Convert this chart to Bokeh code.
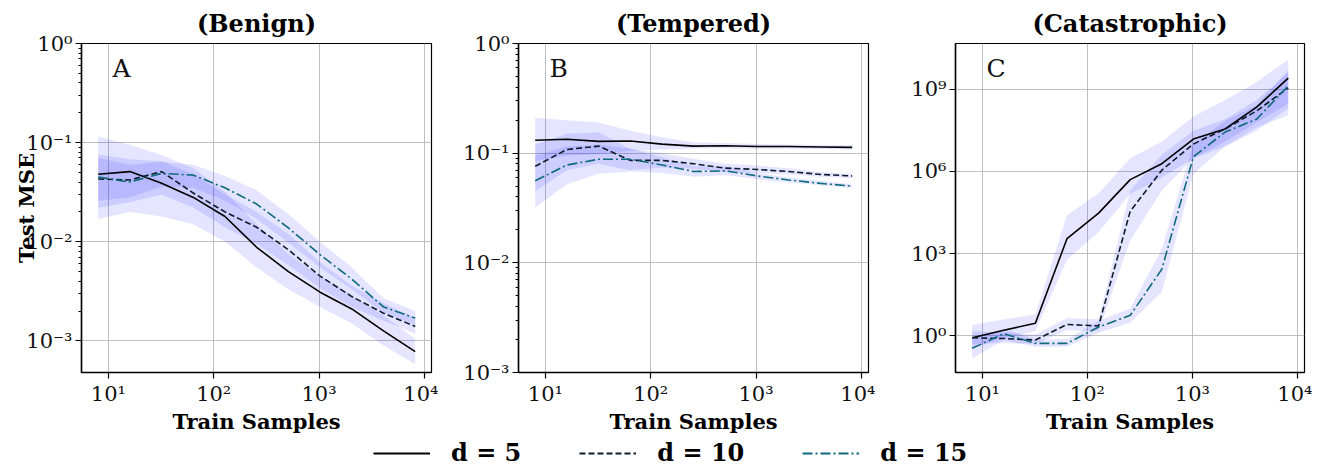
from bokeh.plotting import figure
from bokeh.models import (FixedTicker, CustomJSTickFormatter, Label, Legend,
                          LegendItem, Range1d)
from bokeh.layouts import column, row
from bokeh.embed import file_html
from bokeh.resources import INLINE

# ---------------- data ----------------
samples = [8, 16, 32, 64, 128, 256, 512, 1024, 2048, 4096, 8192]
series_names = ["d = 5", "d = 10", "d = 15"]
panel_titles = ["(Benign)", "(Tempered)", "(Catastrophic)"]
panel_letters = ["A", "B", "C"]

# Panel A (Benign)
a_d5 = [0.048, 0.051, 0.039, 0.028, 0.018, 0.0088, 0.005, 0.0031, 0.0021, 0.00126, 0.00078]
a_d5_lo = [0.017, 0.020, 0.018, 0.015, 0.010, 0.0055, 0.0033, 0.0022, 0.0015, 0.00090, 0.00058]
a_d5_hi = [0.115, 0.095, 0.075, 0.055, 0.032, 0.015, 0.0075, 0.0045, 0.0029, 0.0018, 0.00105]
a_d10 = [0.043, 0.042, 0.051, 0.031, 0.020, 0.014, 0.0083, 0.0045, 0.0028, 0.0019, 0.0014]
a_d10_lo = [0.022, 0.025, 0.030, 0.022, 0.014, 0.0095, 0.0058, 0.0034, 0.0022, 0.0016, 0.00118]
a_d10_hi = [0.076, 0.068, 0.065, 0.048, 0.030, 0.020, 0.012, 0.0062, 0.0036, 0.0024, 0.0017]
a_d15 = [0.045, 0.040, 0.049, 0.047, 0.035, 0.024, 0.0138, 0.0074, 0.0042, 0.0022, 0.0017]
a_d15_lo = [0.026, 0.028, 0.036, 0.035, 0.026, 0.017, 0.0098, 0.0055, 0.0033, 0.0019, 0.00145]
a_d15_hi = [0.070, 0.060, 0.064, 0.060, 0.046, 0.033, 0.019, 0.010, 0.0055, 0.0027, 0.0020]

# Panel B (Tempered)
b_d5 = [0.131, 0.134, 0.128, 0.129, 0.121, 0.116, 0.117, 0.115, 0.115, 0.114, 0.113]
b_d5_lo = [0.085, 0.095, 0.098, 0.105, 0.108, 0.110, 0.111, 0.110, 0.110, 0.109, 0.108]
b_d5_hi = [0.21, 0.20, 0.19, 0.16, 0.14, 0.125, 0.124, 0.121, 0.120, 0.119, 0.118]
b_d10 = [0.076, 0.108, 0.116, 0.086, 0.086, 0.080, 0.073, 0.071, 0.068, 0.064, 0.062]
b_d10_lo = [0.045, 0.070, 0.080, 0.070, 0.074, 0.072, 0.067, 0.066, 0.064, 0.061, 0.059]
b_d10_hi = [0.12, 0.15, 0.155, 0.11, 0.10, 0.089, 0.080, 0.077, 0.073, 0.067, 0.065]
b_d15 = [0.056, 0.078, 0.088, 0.088, 0.078, 0.068, 0.069, 0.062, 0.057, 0.053, 0.050]
b_d15_lo = [0.032, 0.052, 0.065, 0.068, 0.066, 0.061, 0.063, 0.058, 0.054, 0.051, 0.048]
b_d15_hi = [0.095, 0.115, 0.12, 0.11, 0.092, 0.076, 0.076, 0.066, 0.060, 0.056, 0.052]

# Panel C (Catastrophic)
c_d5 = [0.85, 1.6, 2.9, 3500, 3e4, 5e5, 1.9e6, 1.5e7, 3.5e7, 2.2e8, 2.5e9]
c_d5_lo = [0.35, 0.8, 1.5, 600, 6000, 1.5e5, 6e5, 3e6, 8e6, 4e7, 1.1e8]
c_d5_hi = [2.5, 4, 6, 2.5e4, 1.6e5, 3e6, 1.2e7, 1e8, 4e8, 1.8e9, 1.2e10]
c_d10 = [0.85, 0.8, 0.7, 2.6, 2.3, 3.5e4, 1.1e6, 1.0e7, 3.5e7, 1.6e8, 1.1e9]
c_d10_lo = [0.5, 0.55, 0.5, 1.6, 1.5, 3000, 2e5, 3e6, 1.2e7, 6e7, 3e8]
c_d10_hi = [1.5, 1.3, 1.1, 4.5, 4, 2e5, 4e6, 3e7, 8e7, 4e8, 4e9]
c_d15 = [0.35, 1.2, 0.53, 0.53, 2.1, 5.6, 270, 3.4e6, 2.7e7, 8e7, 1.3e9]
c_d15_lo = [0.15, 0.7, 0.4, 0.4, 1.3, 3, 40, 8e5, 8e6, 3e7, 2e8]
c_d15_hi = [0.8, 1.8, 0.75, 0.75, 3.5, 10, 1500, 1e7, 7e7, 2.5e8, 5e9]

x_ticks = [10, 100, 1000, 10000]
a_y_ticks = [1e-3, 1e-2, 1e-1, 1]
b_y_ticks = [1e-3, 1e-2, 1e-1, 1]
c_y_ticks = [1, 1e3, 1e6, 1e9]

# ---------------- style ----------------
LINE_COLORS = ["#000000", "#0c1e2c", "#0f6b7c"]
LINE_DASH = ["solid", "6 3", "10 3 2 3"]
BAND_COLOR = "#0000ff"
BAND_ALPHA = 0.1
SERIF = "DejaVu Serif"

fmt = CustomJSTickFormatter(code="""
const s = {"-":"\u207b","0":"\u2070","1":"\u00b9","2":"\u00b2","3":"\u00b3",
           "4":"\u2074","5":"\u2075","6":"\u2076","7":"\u2077","8":"\u2078","9":"\u2079"};
const e = Math.round(Math.log10(tick));
return "10" + String(e).split("").map(c => s[c]).join("");
""")

FRAME_H = 331
TOP = 43
BOTTOM = 62


def minor_of(ticks):
    out = []
    for t in ticks[:-1]:
        for m in range(2, 10):
            out.append(t * m)
    return out


def make_panel(title, letter, ylim, yticks, series, left, right, frame_w,
               ylabel=None, minor=True):
    p = figure(width=left + frame_w + right, height=TOP + FRAME_H + BOTTOM,
               x_axis_type="log", y_axis_type="log",
               x_range=Range1d(5.55, 11700), y_range=Range1d(*ylim),
               output_backend="svg", toolbar_location=None,
               min_border_left=left, min_border_right=right,
               min_border_top=TOP, min_border_bottom=BOTTOM)
    p.title.text = title
    p.title.align = "center"
    p.title.text_font = SERIF
    p.title.text_font_size = "24px"
    p.title.text_font_style = "bold"
    p.title.text_color = "black"
    p.title.offset = 0
    p.title.standoff = 11

    for (mean, lo, hi) in series:
        p.varea(x=samples, y1=lo, y2=hi, fill_color=BAND_COLOR, fill_alpha=BAND_ALPHA)
    for i, (mean, lo, hi) in enumerate(series):
        p.line(x=samples, y=mean, line_color=LINE_COLORS[i], line_width=1.6,
               line_dash=LINE_DASH[i])

    p.xaxis.ticker = FixedTicker(ticks=x_ticks, minor_ticks=[])
    p.yaxis.ticker = FixedTicker(ticks=yticks,
                                 minor_ticks=minor_of(yticks) if minor else [])
    for ax in (p.xaxis, p.yaxis):
        ax.formatter = fmt
        ax.major_label_text_font = SERIF
        ax.major_label_text_font_size = "21px"
        ax.major_label_text_color = "#111111"
        ax.axis_line_width = 1.5
        ax.axis_line_color = "black"
        ax.major_tick_line_width = 1.2
        ax.major_tick_in = 0
        ax.major_tick_out = 6
        ax.minor_tick_in = 0
        ax.minor_tick_out = 3
        ax.major_label_standoff = 3
    p.xaxis.axis_label = "Train Samples"
    p.xaxis.axis_label_text_font = SERIF
    p.xaxis.axis_label_text_font_size = "21px"
    p.xaxis.axis_label_text_font_style = "bold"
    p.xaxis.axis_label_text_color = "black"
    p.xaxis.axis_label_standoff = 0
    if ylabel:
        p.yaxis.axis_label = ylabel
        p.yaxis.axis_label_text_font = SERIF
        p.yaxis.axis_label_text_font_size = "21px"
        p.yaxis.axis_label_text_font_style = "bold"
        p.yaxis.axis_label_text_color = "black"
        p.yaxis.axis_label_standoff = -16

    p.grid.grid_line_color = "#b0b0b0"
    p.grid.grid_line_width = 1
    p.grid.grid_line_alpha = 0.8
    p.outline_line_color = "black"
    p.outline_line_width = 1.2
    p.outline_line_alpha = 1

    p.add_layout(Label(x=31, y=FRAME_H - 41, x_units="screen", y_units="screen",
                       text=letter, text_font=SERIF, text_font_size="25px",
                       text_color="#111111", text_baseline="bottom"))
    return p


pA = make_panel(panel_titles[0], panel_letters[0], (4.8e-4, 1.0), a_y_ticks,
                [(a_d5, a_d5_lo, a_d5_hi), (a_d10, a_d10_lo, a_d10_hi),
                 (a_d15, a_d15_lo, a_d15_hi)],
                81, 7, 350, ylabel="Test MSE")
pB = make_panel(panel_titles[1], panel_letters[1], (1e-3, 1.0), b_y_ticks,
                [(b_d5, b_d5_lo, b_d5_hi), (b_d10, b_d10_lo, b_d10_hi),
                 (b_d15, b_d15_lo, b_d15_hi)],
                80, 7, 350)
pC = make_panel(panel_titles[2], panel_letters[2], (0.046, 4.6e10), c_y_ticks,
                [(c_d5, c_d5_lo, c_d5_hi), (c_d10, c_d10_lo, c_d10_hi),
                 (c_d15, c_d15_lo, c_d15_hi)],
                80, 8, 349, minor=False)

# legend strip
leg = figure(width=1312, height=31, x_axis_type=None, y_axis_type=None,
             x_range=Range1d(0, 1), y_range=Range1d(0, 1),
             output_backend="svg", toolbar_location=None, min_border=0)
leg.outline_line_color = None
leg.grid.visible = False
items = []
for i, name in enumerate(series_names):
    r = leg.line(x=[-5, -4], y=[-5, -4], line_color=LINE_COLORS[i], line_width=2,
                 line_dash=LINE_DASH[i])
    items.append(LegendItem(label=name, renderers=[r]))
legend = Legend(items=items, orientation="horizontal", location=(373, 0),
                glyph_width=57, glyph_height=28, label_standoff=21, spacing=58,
                padding=0, margin=0, border_line_alpha=0, background_fill_alpha=0,
                label_text_font=SERIF, label_text_font_size="24px",
                label_text_font_style="bold", label_text_color="black",
                label_height=28)
leg.add_layout(legend, "center")

layout = column(row(pA, pB, pC, spacing=0), leg, spacing=0)

open("out.html", "w").write(file_html(layout, INLINE))
